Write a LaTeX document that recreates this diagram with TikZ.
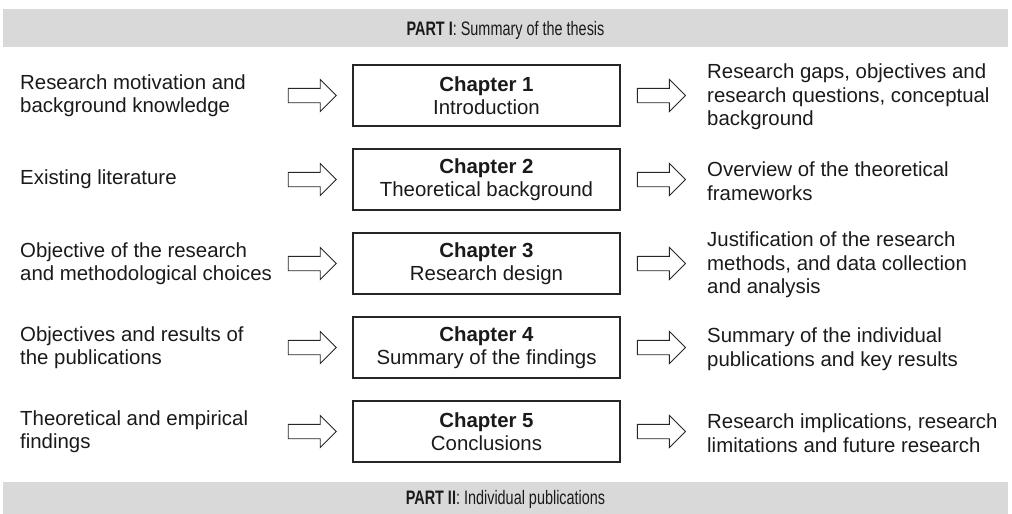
\documentclass[tikz,border=0pt]{standalone}
\usepackage{fontspec}
\setmainfont{Liberation Sans}
\newfontfamily\narrowsans[FakeStretch=0.74]{Liberation Sans}
\definecolor{barfill}{HTML}{D9D9D9}
\definecolor{txt}{HTML}{1A1A1A}
\definecolor{boxline}{HTML}{262626}
\begin{document}
\begin{tikzpicture}[x=1pt,y=-1pt,
  every node/.style={font=\fontsize{20.4}{23.5}\selectfont, text=txt, inner sep=0pt},
  partbar/.style={fill=barfill, draw=none},
  parttitle/.style={anchor=base, font=\narrowsans\fontsize{19.5}{22}\selectfont},
  chapbox/.style={draw=boxline, line width=1.1pt, minimum width=267pt,
    minimum height=61pt, align=center, fill=white},
  lefttext/.style={align=left, anchor=west},
  righttext/.style={align=left, anchor=west},
  blockarr/.style={draw=boxline, line width=0.9pt, fill=white, line join=miter}]
\useasboundingbox (0,0) rectangle (1012,514);

% part headings
\fill[partbar] (3,9) rectangle (1008,46.5);
\fill[partbar] (3,482) rectangle (1008,519);
\node[parttitle] (part1) at (505.5,35) {\textbf{PART I}: Summary of the thesis};
\node[parttitle] (part2) at (505.5,504) {\textbf{PART II}: Individual publications};

% block arrow drawn around a named coordinate
\newcommand\blockarrow[1]{%
  \draw[blockarr] (#1) ++(-24,-7.2) -- ++(32,0) -- ++(0,-8.8) -- ++(16,16)
    -- ++(-16,16) -- ++(0,-8.8) -- ++(-32,0) -- cycle;}

% chapter rows
\foreach \i/\title/\lt/\rt in {
  1/Introduction/{Research motivation and\\background knowledge}/{Research gaps, objectives and\\research questions, conceptual\\background},
  2/Theoretical background/{Existing literature}/{Overview of the theoretical\\frameworks},
  3/Research design/{Objective of the research\\and methodological choices}/{Justification of the research\\methods, and data collection\\and analysis},
  4/Summary of the findings/{Objectives and results of\\the publications}/{Summary of the individual\\publications and key results},
  5/Conclusions/{Theoretical and empirical\\findings}/{Research implications, research\\limitations and future  research}}
{
  \pgfmathsetmacro\ry{95.5+84*(\i-1)}
  \node[chapbox] (ch\i) at (486.5,\ry) {\textbf{Chapter \i}\\\title};
  \node[lefttext] (in\i) at (20,\ry) {\lt};
  \node[righttext] (out\i) at (707,\ry+1.5) {\rt};
  \coordinate (la\i) at (312.2,\ry);
  \coordinate (ra\i) at (661.4,\ry);
  \blockarrow{la\i}
  \blockarrow{ra\i}
}
\end{tikzpicture}
\end{document}
